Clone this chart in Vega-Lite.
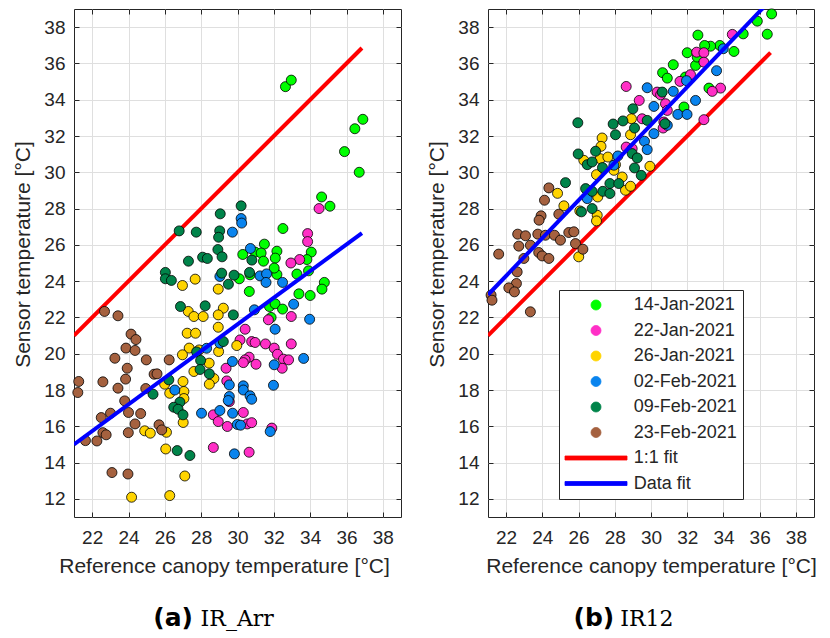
{
  "$schema": "https://vega.github.io/schema/vega-lite/v6.json",
  "background": "white",
  "padding": {"left": 12, "top": 6, "right": 5, "bottom": 5},
  "spacing": 24,
  "resolve": {"legend": {"color": "independent"}},
  "config": {
    "font": "Liberation Sans",
    "view": {"stroke": "#262626", "strokeWidth": 1},
    "axis": {
      "labelFont": "Liberation Sans", "labelFontSize": 19, "labelColor": "#262626",
      "titleFont": "Liberation Sans", "titleFontSize": 21, "titleFontWeight": "normal", "titleColor": "#262626",
      "gridColor": "#dfdfdf", "gridWidth": 1, "domain": false,
      "tickColor": "#262626", "tickSize": -5, "tickWidth": 1
    },
    "axisX": {"labelPadding": 16, "titlePadding": 8},
    "axisY": {"labelPadding": 14, "titlePadding": 10},
    "legend": {
      "orient": "none", "legendX": 71, "legendY": 281,
      "labelFont": "Liberation Sans", "labelFontSize": 18, "labelColor": "#262626",
      "strokeColor": "#262626", "fillColor": "white", "padding": 6,
      "symbolSize": 100, "symbolStrokeWidth": 0.8, "symbolOffset": 22, "labelOffset": 28.7, "rowPadding": 7.5,
      "symbolType": "circle"
    }
  },
  "datasets": {
    "arr_lines": [
      {"ref": 21, "sensor": 21, "series": "1:1 fit"},
      {"ref": 36.85, "sensor": 36.85, "series": "1:1 fit"},
      {"ref": 21, "sensor": 15.0, "series": "Data fit"},
      {"ref": 36.85, "sensor": 26.65, "series": "Data fit"}
    ],
    "ir12_lines": [
      {"ref": 21, "sensor": 21, "series": "1:1 fit"},
      {"ref": 36.6, "sensor": 36.6, "series": "1:1 fit"},
      {"ref": 21, "sensor": 23.25, "series": "Data fit"},
      {"ref": 36.6, "sensor": 39.49, "series": "Data fit"}
    ],
    "arr_pts": [
      {"ref":32.64,"sensor":34.72,"date":"14-Jan-2021"},{"ref":32.96,"sensor":35.08,"date":"14-Jan-2021"},{"ref":36.9,"sensor":32.92,"date":"14-Jan-2021"},{"ref":36.46,"sensor":32.4,"date":"14-Jan-2021"},{"ref":35.89,"sensor":31.14,"date":"14-Jan-2021"},{"ref":36.7,"sensor":30.0,"date":"14-Jan-2021"},{"ref":34.63,"sensor":28.64,"date":"14-Jan-2021"},{"ref":35.09,"sensor":28.13,"date":"14-Jan-2021"},{"ref":32.5,"sensor":26.9,"date":"14-Jan-2021"},{"ref":31.48,"sensor":26.04,"date":"14-Jan-2021"},{"ref":32.17,"sensor":25.65,"date":"14-Jan-2021"},{"ref":34.06,"sensor":25.6,"date":"14-Jan-2021"},{"ref":30.29,"sensor":25.47,"date":"14-Jan-2021"},{"ref":30.97,"sensor":25.6,"date":"14-Jan-2021"},{"ref":31.3,"sensor":25.55,"date":"14-Jan-2021"},{"ref":31.43,"sensor":25.1,"date":"14-Jan-2021"},{"ref":32.08,"sensor":25.27,"date":"14-Jan-2021"},{"ref":33.82,"sensor":25.19,"date":"14-Jan-2021"},{"ref":30.1,"sensor":24.13,"date":"14-Jan-2021"},{"ref":30.69,"sensor":24.35,"date":"14-Jan-2021"},{"ref":30.65,"sensor":23.43,"date":"14-Jan-2021"},{"ref":32.17,"sensor":24.37,"date":"14-Jan-2021"},{"ref":32.02,"sensor":24.72,"date":"14-Jan-2021"},{"ref":33.27,"sensor":24.39,"date":"14-Jan-2021"},{"ref":33.91,"sensor":24.57,"date":"14-Jan-2021"},{"ref":34.78,"sensor":23.93,"date":"14-Jan-2021"},{"ref":34.65,"sensor":23.56,"date":"14-Jan-2021"},{"ref":33.38,"sensor":23.3,"date":"14-Jan-2021"},{"ref":34.0,"sensor":23.21,"date":"14-Jan-2021"},{"ref":31.76,"sensor":22.6,"date":"14-Jan-2021"},{"ref":32.07,"sensor":22.75,"date":"14-Jan-2021"},{"ref":32.48,"sensor":22.46,"date":"14-Jan-2021"},{"ref":31.85,"sensor":22.0,"date":"14-Jan-2021"},
      {"ref":34.49,"sensor":28.0,"date":"22-Jan-2021"},{"ref":33.86,"sensor":26.62,"date":"22-Jan-2021"},{"ref":33.86,"sensor":26.18,"date":"22-Jan-2021"},{"ref":33.42,"sensor":25.19,"date":"22-Jan-2021"},{"ref":32.94,"sensor":25.0,"date":"22-Jan-2021"},{"ref":32.96,"sensor":22.05,"date":"22-Jan-2021"},{"ref":31.7,"sensor":21.87,"date":"22-Jan-2021"},{"ref":30.42,"sensor":21.35,"date":"22-Jan-2021"},{"ref":30.14,"sensor":20.76,"date":"22-Jan-2021"},{"ref":30.78,"sensor":20.67,"date":"22-Jan-2021"},{"ref":30.97,"sensor":20.62,"date":"22-Jan-2021"},{"ref":31.54,"sensor":20.54,"date":"22-Jan-2021"},{"ref":32.02,"sensor":20.31,"date":"22-Jan-2021"},{"ref":32.2,"sensor":19.97,"date":"22-Jan-2021"},{"ref":32.53,"sensor":19.7,"date":"22-Jan-2021"},{"ref":32.81,"sensor":19.66,"date":"22-Jan-2021"},{"ref":32.46,"sensor":19.2,"date":"22-Jan-2021"},{"ref":32.96,"sensor":20.54,"date":"22-Jan-2021"},{"ref":30.64,"sensor":19.81,"date":"22-Jan-2021"},{"ref":30.42,"sensor":19.66,"date":"22-Jan-2021"},{"ref":30.32,"sensor":19.51,"date":"22-Jan-2021"},{"ref":31.02,"sensor":19.42,"date":"22-Jan-2021"},{"ref":29.37,"sensor":19.2,"date":"22-Jan-2021"},{"ref":29.41,"sensor":18.5,"date":"22-Jan-2021"},{"ref":29.55,"sensor":17.36,"date":"22-Jan-2021"},{"ref":28.67,"sensor":16.63,"date":"22-Jan-2021"},{"ref":28.94,"sensor":16.26,"date":"22-Jan-2021"},{"ref":30.32,"sensor":16.76,"date":"22-Jan-2021"},{"ref":29.44,"sensor":15.99,"date":"22-Jan-2021"},{"ref":30.54,"sensor":16.13,"date":"22-Jan-2021"},{"ref":30.78,"sensor":16.2,"date":"22-Jan-2021"},{"ref":31.89,"sensor":15.9,"date":"22-Jan-2021"},{"ref":28.67,"sensor":14.83,"date":"22-Jan-2021"},{"ref":30.64,"sensor":14.57,"date":"22-Jan-2021"},
      {"ref":27.67,"sensor":24.11,"date":"26-Jan-2021"},{"ref":26.97,"sensor":23.76,"date":"26-Jan-2021"},{"ref":28.94,"sensor":23.56,"date":"26-Jan-2021"},{"ref":29.22,"sensor":22.51,"date":"26-Jan-2021"},{"ref":27.29,"sensor":22.33,"date":"26-Jan-2021"},{"ref":27.6,"sensor":22.05,"date":"26-Jan-2021"},{"ref":28.11,"sensor":22.05,"date":"26-Jan-2021"},{"ref":28.94,"sensor":22.14,"date":"26-Jan-2021"},{"ref":28.94,"sensor":21.46,"date":"26-Jan-2021"},{"ref":27.23,"sensor":21.13,"date":"26-Jan-2021"},{"ref":27.69,"sensor":21.13,"date":"26-Jan-2021"},{"ref":27.34,"sensor":20.31,"date":"26-Jan-2021"},{"ref":27.89,"sensor":20.21,"date":"26-Jan-2021"},{"ref":28.96,"sensor":20.12,"date":"26-Jan-2021"},{"ref":29.96,"sensor":20.45,"date":"26-Jan-2021"},{"ref":26.97,"sensor":19.94,"date":"26-Jan-2021"},{"ref":28.44,"sensor":19.48,"date":"26-Jan-2021"},{"ref":27.6,"sensor":19.02,"date":"26-Jan-2021"},{"ref":28.7,"sensor":18.63,"date":"26-Jan-2021"},{"ref":28.45,"sensor":18.32,"date":"26-Jan-2021"},{"ref":27.0,"sensor":18.47,"date":"26-Jan-2021"},{"ref":25.99,"sensor":18.32,"date":"26-Jan-2021"},{"ref":26.27,"sensor":17.82,"date":"26-Jan-2021"},{"ref":27.05,"sensor":17.92,"date":"26-Jan-2021"},{"ref":27.05,"sensor":17.53,"date":"26-Jan-2021"},{"ref":27.01,"sensor":16.21,"date":"26-Jan-2021"},{"ref":24.89,"sensor":15.75,"date":"26-Jan-2021"},{"ref":25.2,"sensor":15.62,"date":"26-Jan-2021"},{"ref":26.09,"sensor":15.67,"date":"26-Jan-2021"},{"ref":26.05,"sensor":14.75,"date":"26-Jan-2021"},{"ref":27.1,"sensor":13.26,"date":"26-Jan-2021"},{"ref":24.17,"sensor":12.09,"date":"26-Jan-2021"},{"ref":26.27,"sensor":12.18,"date":"26-Jan-2021"},
      {"ref":30.2,"sensor":27.45,"date":"02-Feb-2021"},{"ref":30.23,"sensor":27.2,"date":"02-Feb-2021"},{"ref":29.72,"sensor":26.7,"date":"02-Feb-2021"},{"ref":30.71,"sensor":25.8,"date":"02-Feb-2021"},{"ref":29.03,"sensor":24.26,"date":"02-Feb-2021"},{"ref":31.24,"sensor":24.29,"date":"02-Feb-2021"},{"ref":31.6,"sensor":24.4,"date":"02-Feb-2021"},{"ref":31.57,"sensor":23.93,"date":"02-Feb-2021"},{"ref":32.48,"sensor":23.93,"date":"02-Feb-2021"},{"ref":30.93,"sensor":22.42,"date":"02-Feb-2021"},{"ref":33.09,"sensor":22.73,"date":"02-Feb-2021"},{"ref":33.97,"sensor":21.9,"date":"02-Feb-2021"},{"ref":32.07,"sensor":21.35,"date":"02-Feb-2021"},{"ref":28.3,"sensor":20.3,"date":"02-Feb-2021"},{"ref":29.03,"sensor":20.58,"date":"02-Feb-2021"},{"ref":29.72,"sensor":19.57,"date":"02-Feb-2021"},{"ref":32.02,"sensor":19.39,"date":"02-Feb-2021"},{"ref":33.64,"sensor":19.74,"date":"02-Feb-2021"},{"ref":26.55,"sensor":18.0,"date":"02-Feb-2021"},{"ref":29.55,"sensor":18.28,"date":"02-Feb-2021"},{"ref":30.32,"sensor":18.23,"date":"02-Feb-2021"},{"ref":30.32,"sensor":18.0,"date":"02-Feb-2021"},{"ref":29.55,"sensor":17.64,"date":"02-Feb-2021"},{"ref":29.49,"sensor":17.42,"date":"02-Feb-2021"},{"ref":30.69,"sensor":17.68,"date":"02-Feb-2021"},{"ref":30.78,"sensor":17.49,"date":"02-Feb-2021"},{"ref":31.98,"sensor":18.26,"date":"02-Feb-2021"},{"ref":28.02,"sensor":16.72,"date":"02-Feb-2021"},{"ref":29.03,"sensor":16.87,"date":"02-Feb-2021"},{"ref":29.73,"sensor":16.72,"date":"02-Feb-2021"},{"ref":29.99,"sensor":16.1,"date":"02-Feb-2021"},{"ref":30.17,"sensor":16.06,"date":"02-Feb-2021"},{"ref":31.8,"sensor":15.71,"date":"02-Feb-2021"},{"ref":29.83,"sensor":14.48,"date":"02-Feb-2021"},
      {"ref":26.79,"sensor":26.77,"date":"09-Feb-2021"},{"ref":27.73,"sensor":26.7,"date":"09-Feb-2021"},{"ref":30.2,"sensor":28.15,"date":"09-Feb-2021"},{"ref":29.05,"sensor":27.71,"date":"09-Feb-2021"},{"ref":29.02,"sensor":26.77,"date":"09-Feb-2021"},{"ref":28.96,"sensor":26.42,"date":"09-Feb-2021"},{"ref":28.92,"sensor":25.74,"date":"09-Feb-2021"},{"ref":29.15,"sensor":25.34,"date":"09-Feb-2021"},{"ref":28.08,"sensor":25.32,"date":"09-Feb-2021"},{"ref":28.34,"sensor":25.25,"date":"09-Feb-2021"},{"ref":27.3,"sensor":25.1,"date":"09-Feb-2021"},{"ref":30.79,"sensor":25.16,"date":"09-Feb-2021"},{"ref":26.03,"sensor":24.48,"date":"09-Feb-2021"},{"ref":26.03,"sensor":24.13,"date":"09-Feb-2021"},{"ref":26.36,"sensor":24.04,"date":"09-Feb-2021"},{"ref":29.13,"sensor":24.44,"date":"09-Feb-2021"},{"ref":29.81,"sensor":24.33,"date":"09-Feb-2021"},{"ref":30.66,"sensor":24.48,"date":"09-Feb-2021"},{"ref":29.5,"sensor":23.83,"date":"09-Feb-2021"},{"ref":26.86,"sensor":22.6,"date":"09-Feb-2021"},{"ref":28.22,"sensor":22.64,"date":"09-Feb-2021"},{"ref":29.77,"sensor":22.14,"date":"09-Feb-2021"},{"ref":29.22,"sensor":20.67,"date":"09-Feb-2021"},{"ref":27.75,"sensor":20.1,"date":"09-Feb-2021"},{"ref":27.97,"sensor":19.63,"date":"09-Feb-2021"},{"ref":27.94,"sensor":19.13,"date":"09-Feb-2021"},{"ref":28.45,"sensor":18.89,"date":"09-Feb-2021"},{"ref":26.22,"sensor":18.56,"date":"09-Feb-2021"},{"ref":25.35,"sensor":17.77,"date":"09-Feb-2021"},{"ref":26.83,"sensor":17.33,"date":"09-Feb-2021"},{"ref":26.49,"sensor":17.05,"date":"09-Feb-2021"},{"ref":26.73,"sensor":16.94,"date":"09-Feb-2021"},{"ref":27.0,"sensor":16.63,"date":"09-Feb-2021"},{"ref":26.68,"sensor":14.66,"date":"09-Feb-2021"},{"ref":27.38,"sensor":14.39,"date":"09-Feb-2021"},
      {"ref":22.68,"sensor":22.33,"date":"23-Feb-2021"},{"ref":23.42,"sensor":22.09,"date":"23-Feb-2021"},{"ref":24.14,"sensor":21.08,"date":"23-Feb-2021"},{"ref":24.41,"sensor":20.78,"date":"23-Feb-2021"},{"ref":23.86,"sensor":20.31,"date":"23-Feb-2021"},{"ref":24.36,"sensor":20.18,"date":"23-Feb-2021"},{"ref":23.25,"sensor":19.75,"date":"23-Feb-2021"},{"ref":24.98,"sensor":19.66,"date":"23-Feb-2021"},{"ref":26.24,"sensor":19.66,"date":"23-Feb-2021"},{"ref":23.93,"sensor":19.2,"date":"23-Feb-2021"},{"ref":25.41,"sensor":18.87,"date":"23-Feb-2021"},{"ref":25.57,"sensor":18.89,"date":"23-Feb-2021"},{"ref":23.84,"sensor":18.6,"date":"23-Feb-2021"},{"ref":21.26,"sensor":18.47,"date":"23-Feb-2021"},{"ref":21.21,"sensor":17.86,"date":"23-Feb-2021"},{"ref":22.59,"sensor":18.45,"date":"23-Feb-2021"},{"ref":23.42,"sensor":18.1,"date":"23-Feb-2021"},{"ref":24.95,"sensor":18.08,"date":"23-Feb-2021"},{"ref":23.79,"sensor":17.4,"date":"23-Feb-2021"},{"ref":24.0,"sensor":16.76,"date":"23-Feb-2021"},{"ref":24.67,"sensor":16.7,"date":"23-Feb-2021"},{"ref":23.01,"sensor":16.72,"date":"23-Feb-2021"},{"ref":22.5,"sensor":16.48,"date":"23-Feb-2021"},{"ref":24.36,"sensor":16.13,"date":"23-Feb-2021"},{"ref":25.68,"sensor":16.08,"date":"23-Feb-2021"},{"ref":25.83,"sensor":15.8,"date":"23-Feb-2021"},{"ref":22.59,"sensor":15.65,"date":"23-Feb-2021"},{"ref":22.77,"sensor":15.53,"date":"23-Feb-2021"},{"ref":23.99,"sensor":15.65,"date":"23-Feb-2021"},{"ref":21.63,"sensor":15.21,"date":"23-Feb-2021"},{"ref":22.26,"sensor":15.19,"date":"23-Feb-2021"},{"ref":23.09,"sensor":13.45,"date":"23-Feb-2021"},{"ref":23.97,"sensor":13.37,"date":"23-Feb-2021"}
    ],
    "ir12_pts": [
      {"ref":36.66,"sensor":38.73,"date":"14-Jan-2021"},{"ref":35.87,"sensor":38.33,"date":"14-Jan-2021"},{"ref":36.42,"sensor":37.61,"date":"14-Jan-2021"},{"ref":35.09,"sensor":37.63,"date":"14-Jan-2021"},{"ref":32.59,"sensor":37.56,"date":"14-Jan-2021"},{"ref":34.58,"sensor":36.66,"date":"14-Jan-2021"},{"ref":33.8,"sensor":36.99,"date":"14-Jan-2021"},{"ref":33.29,"sensor":36.95,"date":"14-Jan-2021"},{"ref":32.96,"sensor":36.99,"date":"14-Jan-2021"},{"ref":32.0,"sensor":36.59,"date":"14-Jan-2021"},{"ref":32.46,"sensor":35.89,"date":"14-Jan-2021"},{"ref":31.23,"sensor":35.93,"date":"14-Jan-2021"},{"ref":30.64,"sensor":35.49,"date":"14-Jan-2021"},{"ref":30.9,"sensor":35.19,"date":"14-Jan-2021"},{"ref":32.55,"sensor":36.35,"date":"14-Jan-2021"},{"ref":33.2,"sensor":34.64,"date":"14-Jan-2021"},{"ref":31.82,"sensor":33.6,"date":"14-Jan-2021"},{"ref":31.9,"sensor":35.25,"date":"14-Jan-2021"},
      {"ref":34.49,"sensor":37.6,"date":"22-Jan-2021"},{"ref":32.52,"sensor":36.62,"date":"22-Jan-2021"},{"ref":32.92,"sensor":36.59,"date":"22-Jan-2021"},{"ref":32.92,"sensor":36.07,"date":"22-Jan-2021"},{"ref":32.18,"sensor":35.38,"date":"22-Jan-2021"},{"ref":31.6,"sensor":35.01,"date":"22-Jan-2021"},{"ref":28.63,"sensor":34.73,"date":"22-Jan-2021"},{"ref":30.34,"sensor":34.42,"date":"22-Jan-2021"},{"ref":30.53,"sensor":34.27,"date":"22-Jan-2021"},{"ref":33.84,"sensor":34.64,"date":"22-Jan-2021"},{"ref":33.38,"sensor":34.46,"date":"22-Jan-2021"},{"ref":29.35,"sensor":33.96,"date":"22-Jan-2021"},{"ref":30.8,"sensor":33.78,"date":"22-Jan-2021"},{"ref":30.9,"sensor":33.41,"date":"22-Jan-2021"},{"ref":29.51,"sensor":32.95,"date":"22-Jan-2021"},{"ref":30.71,"sensor":32.77,"date":"22-Jan-2021"},{"ref":30.67,"sensor":32.44,"date":"22-Jan-2021"},{"ref":32.92,"sensor":32.9,"date":"22-Jan-2021"},{"ref":28.63,"sensor":31.39,"date":"22-Jan-2021"},{"ref":28.96,"sensor":31.3,"date":"22-Jan-2021"},
      {"ref":28.92,"sensor":32.95,"date":"26-Jan-2021"},{"ref":28.87,"sensor":32.07,"date":"26-Jan-2021"},{"ref":27.3,"sensor":31.89,"date":"26-Jan-2021"},{"ref":27.24,"sensor":31.43,"date":"26-Jan-2021"},{"ref":26.29,"sensor":30.66,"date":"26-Jan-2021"},{"ref":27.2,"sensor":30.75,"date":"26-Jan-2021"},{"ref":27.62,"sensor":30.84,"date":"26-Jan-2021"},{"ref":28.04,"sensor":30.42,"date":"26-Jan-2021"},{"ref":26.99,"sensor":29.87,"date":"26-Jan-2021"},{"ref":28.41,"sensor":29.74,"date":"26-Jan-2021"},{"ref":29.94,"sensor":30.33,"date":"26-Jan-2021"},{"ref":27.95,"sensor":30.11,"date":"26-Jan-2021"},{"ref":28.59,"sensor":29.01,"date":"26-Jan-2021"},{"ref":28.87,"sensor":29.23,"date":"26-Jan-2021"},{"ref":27.06,"sensor":28.64,"date":"26-Jan-2021"},{"ref":24.84,"sensor":28.84,"date":"26-Jan-2021"},{"ref":25.19,"sensor":28.15,"date":"26-Jan-2021"},{"ref":26.07,"sensor":27.87,"date":"26-Jan-2021"},{"ref":27.03,"sensor":27.63,"date":"26-Jan-2021"},{"ref":26.99,"sensor":27.32,"date":"26-Jan-2021"},{"ref":26.01,"sensor":25.34,"date":"26-Jan-2021"},
      {"ref":33.99,"sensor":36.81,"date":"02-Feb-2021"},{"ref":33.62,"sensor":35.6,"date":"02-Feb-2021"},{"ref":31.96,"sensor":35.05,"date":"02-Feb-2021"},{"ref":29.79,"sensor":34.66,"date":"02-Feb-2021"},{"ref":31.23,"sensor":34.46,"date":"02-Feb-2021"},{"ref":32.46,"sensor":33.96,"date":"02-Feb-2021"},{"ref":30.16,"sensor":33.63,"date":"02-Feb-2021"},{"ref":31.48,"sensor":33.19,"date":"02-Feb-2021"},{"ref":31.99,"sensor":33.19,"date":"02-Feb-2021"},{"ref":30.9,"sensor":32.59,"date":"02-Feb-2021"},{"ref":30.16,"sensor":32.13,"date":"02-Feb-2021"},{"ref":29.64,"sensor":31.71,"date":"02-Feb-2021"},{"ref":29.79,"sensor":31.25,"date":"02-Feb-2021"},{"ref":28.17,"sensor":30.9,"date":"02-Feb-2021"},{"ref":27.95,"sensor":30.39,"date":"02-Feb-2021"},{"ref":26.48,"sensor":28.55,"date":"02-Feb-2021"},
      {"ref":25.96,"sensor":32.73,"date":"09-Feb-2021"},{"ref":29.0,"sensor":33.5,"date":"09-Feb-2021"},{"ref":29.79,"sensor":32.86,"date":"09-Feb-2021"},{"ref":29.09,"sensor":32.44,"date":"09-Feb-2021"},{"ref":28.45,"sensor":32.83,"date":"09-Feb-2021"},{"ref":27.91,"sensor":32.66,"date":"09-Feb-2021"},{"ref":28.04,"sensor":32.07,"date":"09-Feb-2021"},{"ref":30.62,"sensor":34.42,"date":"09-Feb-2021"},{"ref":30.77,"sensor":32.68,"date":"09-Feb-2021"},{"ref":26.94,"sensor":31.16,"date":"09-Feb-2021"},{"ref":25.98,"sensor":31.01,"date":"09-Feb-2021"},{"ref":26.48,"sensor":30.42,"date":"09-Feb-2021"},{"ref":26.75,"sensor":30.57,"date":"09-Feb-2021"},{"ref":27.32,"sensor":30.26,"date":"09-Feb-2021"},{"ref":28.96,"sensor":31.03,"date":"09-Feb-2021"},{"ref":29.24,"sensor":30.79,"date":"09-Feb-2021"},{"ref":29.09,"sensor":30.24,"date":"09-Feb-2021"},{"ref":29.46,"sensor":29.83,"date":"09-Feb-2021"},{"ref":27.73,"sensor":29.38,"date":"09-Feb-2021"},{"ref":28.22,"sensor":29.38,"date":"09-Feb-2021"},{"ref":25.28,"sensor":29.43,"date":"09-Feb-2021"},{"ref":26.39,"sensor":29.1,"date":"09-Feb-2021"},{"ref":26.75,"sensor":28.95,"date":"09-Feb-2021"},{"ref":27.34,"sensor":28.95,"date":"09-Feb-2021"},{"ref":27.73,"sensor":28.83,"date":"09-Feb-2021"},{"ref":26.75,"sensor":28.0,"date":"09-Feb-2021"},{"ref":26.16,"sensor":27.82,"date":"09-Feb-2021"},
      {"ref":24.36,"sensor":29.14,"date":"23-Feb-2021"},{"ref":24.12,"sensor":28.46,"date":"23-Feb-2021"},{"ref":23.93,"sensor":27.6,"date":"23-Feb-2021"},{"ref":23.82,"sensor":27.36,"date":"23-Feb-2021"},{"ref":24.91,"sensor":27.69,"date":"23-Feb-2021"},{"ref":22.64,"sensor":26.59,"date":"23-Feb-2021"},{"ref":23.07,"sensor":26.5,"date":"23-Feb-2021"},{"ref":23.75,"sensor":26.59,"date":"23-Feb-2021"},{"ref":24.17,"sensor":26.53,"date":"23-Feb-2021"},{"ref":24.67,"sensor":26.53,"date":"23-Feb-2021"},{"ref":25.0,"sensor":26.26,"date":"23-Feb-2021"},{"ref":25.46,"sensor":26.68,"date":"23-Feb-2021"},{"ref":25.74,"sensor":26.72,"date":"23-Feb-2021"},{"ref":22.7,"sensor":25.93,"date":"23-Feb-2021"},{"ref":23.34,"sensor":25.98,"date":"23-Feb-2021"},{"ref":25.83,"sensor":26.07,"date":"23-Feb-2021"},{"ref":26.24,"sensor":25.76,"date":"23-Feb-2021"},{"ref":21.59,"sensor":25.49,"date":"23-Feb-2021"},{"ref":23.8,"sensor":25.58,"date":"23-Feb-2021"},{"ref":23.99,"sensor":25.39,"date":"23-Feb-2021"},{"ref":24.36,"sensor":25.25,"date":"23-Feb-2021"},{"ref":22.98,"sensor":25.25,"date":"23-Feb-2021"},{"ref":22.61,"sensor":24.51,"date":"23-Feb-2021"},{"ref":22.57,"sensor":23.87,"date":"23-Feb-2021"},{"ref":22.15,"sensor":23.63,"date":"23-Feb-2021"},{"ref":22.46,"sensor":23.41,"date":"23-Feb-2021"},{"ref":21.17,"sensor":23.23,"date":"23-Feb-2021"},{"ref":21.22,"sensor":22.95,"date":"23-Feb-2021"},{"ref":23.34,"sensor":22.31,"date":"23-Feb-2021"}
    ]
  },
  "hconcat": [
    {
      "width": 327, "height": 508,
      "resolve": {"axis": {"x": "independent", "y": "independent"}},
      "layer": [
        {
          "data": {"name": "arr_lines"},
          "transform": [{"filter": "datum.series == '1:1 fit'"}],
          "mark": {"type": "line", "strokeWidth": 4, "clip": true},
          "encoding": {
            "x": {"field": "ref", "type": "quantitative", "scale": {"domain": [21, 39], "nice": false, "zero": false}, "axis": {"orient": "bottom", "values": [22,24,26,28,30,32,34,36,38], "title": "Reference canopy temperature [°C]", "grid": true, "titleX": 150}},
            "y": {"field": "sensor", "type": "quantitative", "scale": {"domain": [11, 39], "nice": false, "zero": false}, "axis": {"orient": "left", "values": [12,14,16,18,20,22,24,26,28,30,32,34,36,38], "title": "Sensor temperature [°C]", "grid": true, "titleY": 245}},
            "color": {"field": "series", "type": "nominal", "scale": {"domain": ["14-Jan-2021","22-Jan-2021","26-Jan-2021","02-Feb-2021","09-Feb-2021","23-Feb-2021","1:1 fit","Data fit"], "range": ["#00ff00","#ff2fc6","#ffd400","#0a84ee","#00844a","#a5613f","#ff0000","#0000ff"]}, "legend": null}
          }
        },
        {
          "data": {"name": "arr_pts"},
          "mark": {"type": "point", "filled": true, "size": 100, "stroke": "#000000", "strokeWidth": 0.8, "opacity": 1},
          "encoding": {
            "x": {"field": "ref", "type": "quantitative", "axis": {"orient": "top", "values": [22,24,26,28,30,32,34,36,38], "labels": false, "title": null, "grid": false}},
            "y": {"field": "sensor", "type": "quantitative", "axis": {"orient": "right", "values": [12,14,16,18,20,22,24,26,28,30,32,34,36,38], "labels": false, "title": null, "grid": false}},
            "color": {"field": "date", "type": "nominal", "legend": null}
          }
        },
        {
          "data": {"name": "arr_lines"},
          "transform": [{"filter": "datum.series == 'Data fit'"}],
          "mark": {"type": "line", "strokeWidth": 4, "clip": true},
          "encoding": {
            "x": {"field": "ref", "type": "quantitative", "axis": null},
            "y": {"field": "sensor", "type": "quantitative", "axis": null},
            "color": {"field": "series", "type": "nominal", "legend": null}
          }
        },
        {
          "data": {"values": [{"t": "(a)"}]},
          "mark": {"type": "text", "align": "right", "baseline": "alphabetic", "font": "DejaVu Sans", "fontWeight": "bold", "fontSize": 25, "color": "#000000"},
          "encoding": {
            "x": {"datum": 27.55, "type": "quantitative", "axis": null},
            "y": {"datum": 4.99, "type": "quantitative", "axis": null},
            "text": {"field": "t"}
          }
        },
        {
          "data": {"values": [{"t": "IR_Arr"}]},
          "mark": {"type": "text", "align": "left", "baseline": "alphabetic", "font": "DejaVu Serif", "fontSize": 22, "color": "#000000"},
          "encoding": {
            "x": {"datum": 27.97, "type": "quantitative", "axis": null},
            "y": {"datum": 4.99, "type": "quantitative", "axis": null},
            "text": {"field": "t"}
          }
        }
      ]
    },
    {
      "width": 326, "height": 508,
      "resolve": {"axis": {"x": "independent", "y": "independent"}},
      "layer": [
        {
          "data": {"name": "ir12_lines"},
          "transform": [{"filter": "datum.series == '1:1 fit'"}],
          "mark": {"type": "line", "strokeWidth": 4, "clip": true},
          "encoding": {
            "x": {"field": "ref", "type": "quantitative", "scale": {"domain": [21, 39], "nice": false, "zero": false}, "axis": {"orient": "bottom", "values": [22,24,26,28,30,32,34,36,38], "title": "Reference canopy temperature [°C]", "grid": true}},
            "y": {"field": "sensor", "type": "quantitative", "scale": {"domain": [11, 39], "nice": false, "zero": false}, "axis": {"orient": "left", "values": [12,14,16,18,20,22,24,26,28,30,32,34,36,38], "title": "Sensor temperature [°C]", "grid": true, "titleY": 245}},
            "color": {"field": "series", "type": "nominal", "legend": {"title": null, "encode": {"symbols": {"update": {
              "shape": {"signal": "datum.value == '1:1 fit' || datum.value == 'Data fit' ? 'M-6.2,-0.4H6.2V0.4H-6.2Z' : 'circle'"},
              "fill": {"signal": "datum.value == '14-Jan-2021' ? '#00ff00' : datum.value == '22-Jan-2021' ? '#ff2fc6' : datum.value == '26-Jan-2021' ? '#ffd400' : datum.value == '02-Feb-2021' ? '#0a84ee' : datum.value == '09-Feb-2021' ? '#00844a' : datum.value == '23-Feb-2021' ? '#a5613f' : datum.value == '1:1 fit' ? '#ff0000' : '#0000ff'"},
              "stroke": {"signal": "datum.value == '1:1 fit' || datum.value == 'Data fit' ? 'transparent' : '#000000'"},
              "opacity": {"value": 1}, "fillOpacity": {"value": 1}}}}}}
          }
        },
        {
          "data": {"name": "ir12_pts"},
          "mark": {"type": "point", "filled": true, "size": 100, "stroke": "#000000", "strokeWidth": 0.8, "opacity": 1},
          "encoding": {
            "x": {"field": "ref", "type": "quantitative", "axis": {"orient": "top", "values": [22,24,26,28,30,32,34,36,38], "labels": false, "title": null, "grid": false}},
            "y": {"field": "sensor", "type": "quantitative", "axis": {"orient": "right", "values": [12,14,16,18,20,22,24,26,28,30,32,34,36,38], "labels": false, "title": null, "grid": false}},
            "color": {"field": "date", "type": "nominal", "legend": {"title": null, "encode": {"symbols": {"update": {
              "shape": {"signal": "datum.value == '1:1 fit' || datum.value == 'Data fit' ? 'M-6.2,-0.4H6.2V0.4H-6.2Z' : 'circle'"},
              "fill": {"signal": "datum.value == '14-Jan-2021' ? '#00ff00' : datum.value == '22-Jan-2021' ? '#ff2fc6' : datum.value == '26-Jan-2021' ? '#ffd400' : datum.value == '02-Feb-2021' ? '#0a84ee' : datum.value == '09-Feb-2021' ? '#00844a' : datum.value == '23-Feb-2021' ? '#a5613f' : datum.value == '1:1 fit' ? '#ff0000' : '#0000ff'"},
              "stroke": {"signal": "datum.value == '1:1 fit' || datum.value == 'Data fit' ? 'transparent' : '#000000'"},
              "opacity": {"value": 1}, "fillOpacity": {"value": 1}}}}}}
          }
        },
        {
          "data": {"name": "ir12_lines"},
          "transform": [{"filter": "datum.series == 'Data fit'"}],
          "mark": {"type": "line", "strokeWidth": 4, "clip": true},
          "encoding": {
            "x": {"field": "ref", "type": "quantitative", "axis": null},
            "y": {"field": "sensor", "type": "quantitative", "axis": null},
            "color": {"field": "series", "type": "nominal", "legend": {"title": null, "encode": {"symbols": {"update": {
              "shape": {"signal": "datum.value == '1:1 fit' || datum.value == 'Data fit' ? 'M-6.2,-0.4H6.2V0.4H-6.2Z' : 'circle'"},
              "fill": {"signal": "datum.value == '14-Jan-2021' ? '#00ff00' : datum.value == '22-Jan-2021' ? '#ff2fc6' : datum.value == '26-Jan-2021' ? '#ffd400' : datum.value == '02-Feb-2021' ? '#0a84ee' : datum.value == '09-Feb-2021' ? '#00844a' : datum.value == '23-Feb-2021' ? '#a5613f' : datum.value == '1:1 fit' ? '#ff0000' : '#0000ff'"},
              "stroke": {"signal": "datum.value == '1:1 fit' || datum.value == 'Data fit' ? 'transparent' : '#000000'"},
              "opacity": {"value": 1}, "fillOpacity": {"value": 1}}}}}}
          }
        },
        {
          "data": {"values": [{"t": "(b)"}]},
          "mark": {"type": "text", "align": "right", "baseline": "alphabetic", "font": "DejaVu Sans", "fontWeight": "bold", "fontSize": 25, "color": "#000000"},
          "encoding": {
            "x": {"datum": 27.97, "type": "quantitative", "axis": null},
            "y": {"datum": 4.99, "type": "quantitative", "axis": null},
            "text": {"field": "t"}
          }
        },
        {
          "data": {"values": [{"t": "IR12"}]},
          "mark": {"type": "text", "align": "left", "baseline": "alphabetic", "font": "DejaVu Serif", "fontSize": 22, "color": "#000000"},
          "encoding": {
            "x": {"datum": 28.3, "type": "quantitative", "axis": null},
            "y": {"datum": 4.99, "type": "quantitative", "axis": null},
            "text": {"field": "t"}
          }
        }
      ]
    }
  ]
}
